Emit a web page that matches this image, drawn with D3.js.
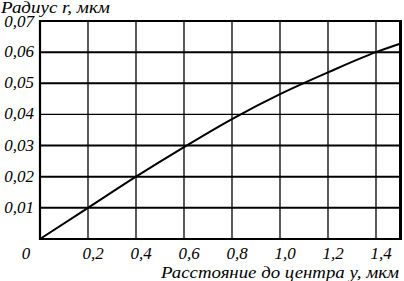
<!DOCTYPE html>
<html><head><meta charset="utf-8">
<script src="https://cdn.jsdelivr.net/npm/d3@7"></script>
<style>html,body{margin:0;padding:0;background:#fff;overflow:hidden}</style>
</head><body><svg id="c" width="404" height="281"></svg>
<script>
const distance=[0,0.2,0.4,0.6,0.8,1.0,1.2,1.4,1.5];
const radius=[0,0.01,0.02,0.0295,0.0385,0.0465,0.0535,0.06,0.0627];
const xTicks=[0.2,0.4,0.6,0.8,1.0,1.2,1.4];
const xTickLabels=["0,2","0,4","0,6","0,8","1,0","1,2","1,4"];
const yTicks=[0.01,0.02,0.03,0.04,0.05,0.06,0.07];
const yTickLabels=["0,01","0,02","0,03","0,04","0,05","0,06","0,07"];
const xTitle="Расстояние до центра y, мкм";
const yTitle="Радиус r, мкм";

const svg=d3.select("#c");
const x=d3.scaleLinear().domain([0,1.5]).range([40,400]);
const y=d3.scaleLinear().domain([0,0.07]).range([239,21]);
function txt(sel,size){return sel.attr("font-family","Liberation Serif").attr("font-style","italic").attr("font-size",size).attr("fill","#000");}

// grid
svg.append("g").selectAll("line").data(xTicks).join("line")
  .attr("x1",d=>x(d)).attr("x2",d=>x(d)).attr("y1",y(0)).attr("y2",y(0.07))
  .attr("stroke","#000").attr("stroke-width",1.3);
svg.append("g").selectAll("line").data(yTicks.slice(0,6)).join("line")
  .attr("x1",x(0)).attr("x2",x(1.5)).attr("y1",d=>y(d)).attr("y2",d=>y(d))
  .attr("stroke","#000").attr("stroke-width",d=>Math.abs(d-0.04)<1e-9?1.2:2);

// frame
svg.append("line").attr("x1",x(0)).attr("x2",x(1.5)).attr("y1",y(0.07)).attr("y2",y(0.07)).attr("stroke","#000").attr("stroke-width",2);
svg.append("line").attr("x1",x(0)).attr("x2",x(1.5)+1.5).attr("y1",y(0)).attr("y2",y(0)).attr("stroke","#000").attr("stroke-width",2);
svg.append("line").attr("x1",x(0)).attr("x2",x(0)).attr("y1",y(0.07)-1).attr("y2",y(0)+1).attr("stroke","#000").attr("stroke-width",2.2);
svg.append("line").attr("x1",x(1.5)+0.5).attr("x2",x(1.5)+0.5).attr("y1",y(0.07)-1).attr("y2",y(0)+1).attr("stroke","#000").attr("stroke-width",3);

// curve
svg.append("path").datum(distance.map((d,i)=>[d,radius[i]]))
  .attr("fill","none").attr("stroke","#000").attr("stroke-width",2)
  .attr("d",d3.line().x(d=>x(d[0])).y(d=>y(d[1])).curve(d3.curveMonotoneX));

// tick labels
txt(svg.append("g").selectAll("text").data(yTicks).join("text")
  .attr("x",34).attr("y",(d,i)=>y(d)+(i===6?6:5)).attr("text-anchor","end"),17).text((d,i)=>yTickLabels[i]);
txt(svg.append("g").selectAll("text").data(xTicks).join("text")
  .attr("x",d=>x(d)+5).attr("y",259).attr("text-anchor","middle"),17).text((d,i)=>xTickLabels[i]);
txt(svg.append("text").attr("x",26).attr("y",259).attr("text-anchor","middle"),17).text("0");

// titles
txt(svg.append("text").attr("x",399).attr("y",278).attr("text-anchor","end"),16)
  .attr("textLength",238).attr("lengthAdjust","spacingAndGlyphs").text(xTitle);
txt(svg.append("text").attr("x",1).attr("y",13).attr("text-anchor","start"),16)
  .attr("textLength",109).attr("lengthAdjust","spacingAndGlyphs").text(yTitle);
</script></body></html>
